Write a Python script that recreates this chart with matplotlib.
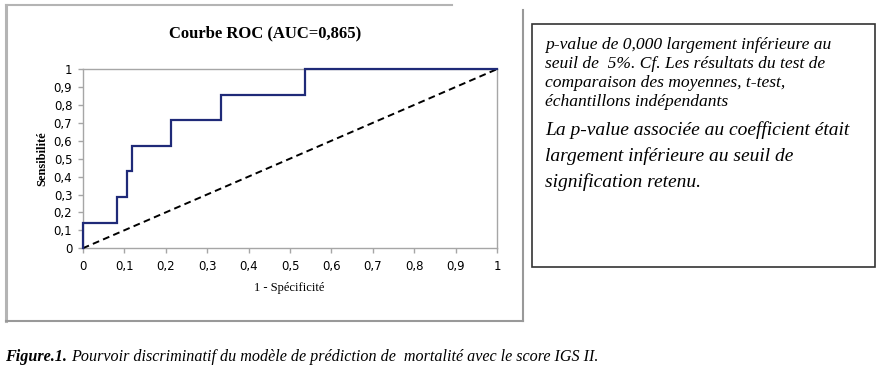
import matplotlib.pyplot as plt
from matplotlib.patches import Rectangle
from matplotlib.lines import Line2D
import numpy as np

# courbe ROC (1 - specificite, sensibilite), en escalier
fpr = [0, 0, 0.083, 0.083, 0.107, 0.107, 0.120, 0.120, 0.214, 0.214, 0.333, 0.333, 0.536, 0.536, 1]
tpr = [0, 0.143, 0.143, 0.286, 0.286, 0.429, 0.429, 0.571, 0.571, 0.714, 0.714, 0.857, 0.857, 1, 1]
ref_x = [0, 1]
ref_y = [0, 1]
ticks = np.round(np.arange(0, 1.01, 0.1), 1)
tick_labels = [('%g' % t).replace('.', ',') for t in ticks]

W, H = 888, 391
fig = plt.figure(figsize=(W / 100, H / 100), dpi=100)
serif = 'Liberation Serif'

def fx(px):
    return px / W

def fy(py):
    return 1 - py / H

# cadre du graphique (scan)
fig.add_artist(Line2D([fx(6), fx(452)], [fy(5), fy(5)], color='#b4b4b4', lw=1.5))
fig.add_artist(Line2D([fx(6), fx(6)], [fy(5), fy(321)], color='#b4b4b4', lw=2.2))
fig.add_artist(Line2D([fx(6), fx(523)], [fy(321), fy(321)], color='#999999', lw=1.5))
fig.add_artist(Line2D([fx(523), fx(523)], [fy(10), fy(321)], color='#999999', lw=1.5))

ax = fig.add_axes([fx(82.7), fy(248.3), (497.3 - 82.7) / W, (248.3 - 69) / H])
ax.plot(ref_x, ref_y, color='black', lw=1.4, ls=(0, (3.5, 2.2)), zorder=3, clip_on=False)
ax.plot(fpr, tpr, color='#1f2a78', lw=1.6, solid_joinstyle='miter', zorder=4, clip_on=False)
ax.set_xlim(0, 1)
ax.set_ylim(0, 1)
ax.set_xticks(ticks)
ax.set_yticks(ticks)
ax.set_xticklabels(tick_labels)
ax.set_yticklabels(tick_labels)
for s in ax.spines.values():
    s.set_color('#a6a6a6')
    s.set_linewidth(1.0)
    s.set_zorder(1)
ax.tick_params(axis='both', colors='#a6a6a6', labelcolor='black', labelsize=8.5, length=3.5, width=1.0)
ax.tick_params(axis='x', pad=5)
ax.tick_params(axis='y', pad=4)
for lab in ax.get_xticklabels() + ax.get_yticklabels():
    lab.set_family('DejaVu Sans')

fig.text(fx(265), fy(33), 'Courbe ROC (AUC=0,865)', family=serif, weight='bold',
         fontsize=12, ha='center', va='center')
fig.text(fx(289), fy(288), '1 - Spécificité', family=serif, fontsize=9, ha='center', va='center')
fig.text(fx(42), fy(159), 'Sensibilité', family=serif, weight='bold', fontsize=9,
         rotation=90, ha='center', va='center')

# encadre de texte
fig.add_artist(Rectangle((fx(532), fy(267)), (875 - 532) / W, (267 - 24) / H,
                         transform=fig.transFigure, fill=False, edgecolor='#333333', lw=1.2))
petit = ['p-value de 0,000 largement inférieure au',
         'seuil de  5%. Cf. Les résultats du test de',
         'comparaison des moyennes, t-test,',
         'échantillons indépendants']
for i, t in enumerate(petit):
    fig.text(fx(545), fy(45 + i * 19), t, family=serif, style='italic', fontsize=12.6,
             ha='left', va='center')
grand = ['La p-value associée au coefficient était',
         'largement inférieure au seuil de',
         'signification retenu.']
for i, t in enumerate(grand):
    fig.text(fx(545), fy(130 + i * 26), t, family=serif, style='italic', fontsize=14,
             ha='left', va='center')

# legende de la figure
cap1 = fig.text(fx(5), fy(357), 'Figure.1.', family=serif, style='italic', weight='bold',
                fontsize=11.6, ha='left', va='center')
fig.canvas.draw()
bb = cap1.get_window_extent()
fig.text(bb.x1 / W + fx(4), fy(357),
         'Pourvoir discriminatif du modèle de prédiction de  mortalité avec le score IGS II.',
         family=serif, style='italic', fontsize=11.6, ha='left', va='center')

fig.savefig('out.png', dpi=100)
